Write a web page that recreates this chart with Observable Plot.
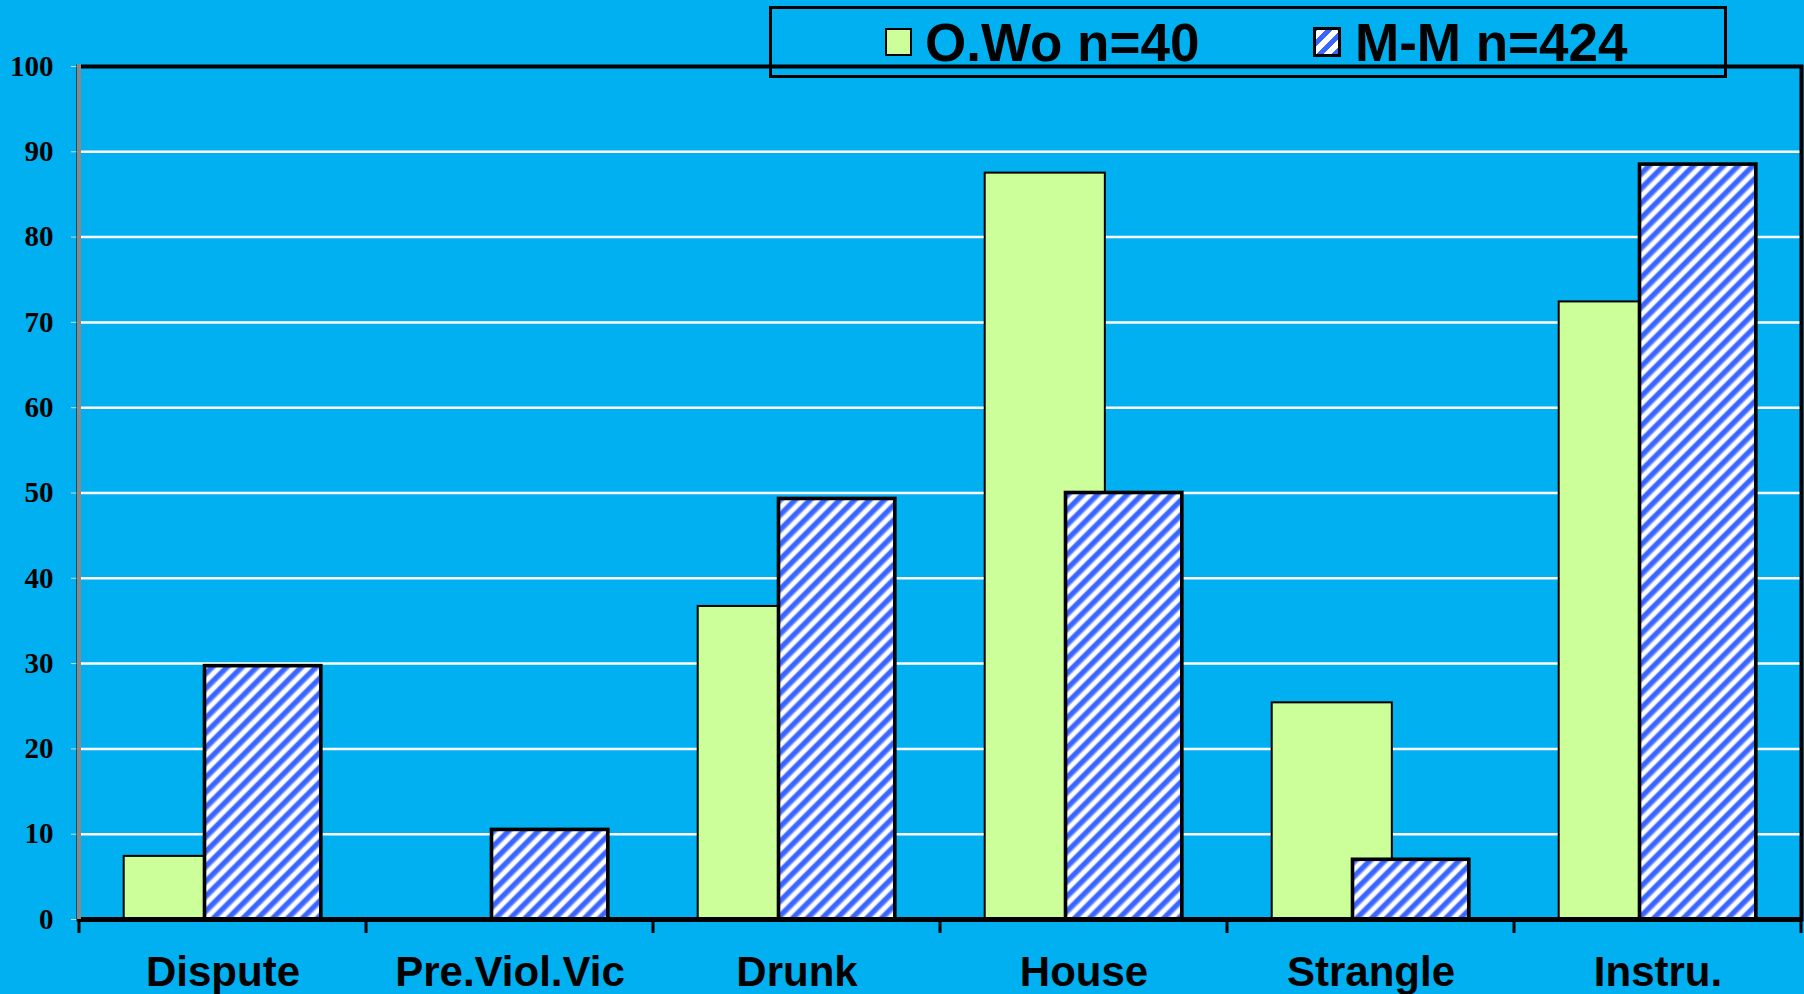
<!DOCTYPE html>
<html>
<head>
<meta charset="utf-8">
<script src="https://cdn.jsdelivr.net/npm/d3@7"></script>
<script src="https://cdn.jsdelivr.net/npm/@observablehq/plot@0.6"></script>
<style>
  html, body { margin: 0; padding: 0; background: #00B0F0; }
  #wrap { position: relative; width: 1804px; height: 994px; overflow: hidden; background: #00B0F0; }
  #legend-box { position: absolute; left: 769px; top: 6px; width: 952px; height: 66px; border: 3px solid #000; z-index: 2; }
  .lg-text { position: absolute; top: 16px; font-family: "Liberation Sans", Arial, sans-serif; font-weight: bold; font-size: 53px; line-height: 1; color: #000; white-space: nowrap; z-index: 3; }
  .lg-sw { position: absolute; box-sizing: border-box; z-index: 3; }
</style>
</head>
<body>
<div id="wrap"></div>
<script>
// ---- data ----
const categories = ["Dispute", "Pre.Viol.Vic", "Drunk", "House", "Strangle", "Instru."];
const owoValues  = [7.4, 0, 36.7, 87.5, 25.4, 72.4];
const mmValues   = [29.7, 10.5, 49.3, 50.0, 7.0, 88.5];
const seriesNames = ["O.Wo n=40", "M-M n=424"];
const yTicks = [0, 10, 20, 30, 40, 50, 60, 70, 80, 90, 100];
const gridTicks = [10, 20, 30, 40, 50, 60, 70, 80, 90];

const table = categories.map((c, i) => ({category: c, owo: owoValues[i], mm: mmValues[i]}));

const W = 1804, H = 994;
const mL = 78, mR = 3, mT = 66, mB = 75;
const bw = (W - mL - mR) / categories.length;

const chart = Plot.plot({
  width: W,
  height: H,
  marginLeft: mL,
  marginRight: mR,
  marginTop: mT,
  marginBottom: mB,
  style: {background: "#00B0F0", fontFamily: "'Liberation Sans', Arial, sans-serif", overflow: "visible"},
  x: {type: "band", domain: categories, padding: 0},
  y: {domain: [0, 100]},
  marks: [
    Plot.gridY(gridTicks, {stroke: "#ffffff", strokeOpacity: 1, strokeWidth: 2.5}),
    Plot.barY(table, {x: "category", y: "owo", fill: "#CCFF99", stroke: "#000", strokeWidth: 2,
      insetLeft: 44.7, insetRight: bw - 165}),
    Plot.barY(table, {x: "category", y: "mm", fill: "url(#hatch)", stroke: "#000", strokeWidth: 3.6,
      insetLeft: 125.5, insetRight: bw - 242}),
    Plot.axisY(yTicks, {tickSize: 7, tickPadding: 18, fontSize: 29, fontWeight: "bold",
      fontFamily: "'Liberation Serif', 'Times New Roman', serif", stroke: "#d8d8d8", fill: "#000", label: null}),
    Plot.axisX({tickSize: 0, tickPadding: 37, fontSize: 42, fontWeight: "bold",
      fontFamily: "'Liberation Sans', Arial, sans-serif", fill: "#000", label: null}),
    Plot.frame({stroke: "#000", strokeWidth: 4}),
    Plot.ruleY([0], {stroke: "#000", strokeWidth: 5})
  ]
});

const svg = d3.select(chart);
svg.insert("defs", ":first-child").html(
  `<pattern id="hatch" patternUnits="userSpaceOnUse" width="10.5" height="10.5" patternTransform="rotate(45)">
     <rect width="10.5" height="10.5" fill="#ffffff"/>
     <rect x="0" width="4.6" height="10.5" fill="#3a66ff"/>
     <rect x="4.6" width="1" height="10.5" fill="#9db4ff"/>
     <rect x="-1" width="1" height="10.5" fill="#9db4ff"/>
     <rect x="9.5" width="1" height="10.5" fill="#9db4ff"/>
   </pattern>`);

const xs = chart.scale("x");
const ys = chart.scale("y");
const edges = categories.map(c => xs.apply(c));
edges.push(xs.apply(categories[categories.length - 1]) + xs.bandwidth);
const y0 = ys.apply(0), y100 = ys.apply(100);

// left axis line (grey)
svg.append("line")
  .attr("x1", edges[0]).attr("x2", edges[0])
  .attr("y1", y100 - 2).attr("y2", y0)
  .attr("stroke", "#8a8a8a").attr("stroke-width", 4);
// category boundary ticks below axis
svg.append("g").selectAll("line").data(edges).join("line")
  .attr("x1", d => d).attr("x2", d => d)
  .attr("y1", y0).attr("y2", y0 + 14)
  .attr("stroke", "#000").attr("stroke-width", 3);

const wrap = document.getElementById("wrap");
wrap.appendChild(chart);

// legend
const box = document.createElement("div");
box.id = "legend-box";
wrap.appendChild(box);

const legendItems = [
  {name: seriesNames[0], swLeft: 885, swTop: 28, swW: 27, swH: 28, border: "2px solid #000", bg: "#CCFF99", textLeft: 925},
  {name: seriesNames[1], swLeft: 1313, swTop: 27, swW: 28, swH: 30, border: "3.5px solid #000",
   bg: "repeating-linear-gradient(-45deg, #3a66ff 0 4.6px, #ffffff 4.6px 10.5px)", textLeft: 1355}
];
legendItems.forEach(it => {
  const sw = document.createElement("div");
  sw.className = "lg-sw";
  sw.style.left = it.swLeft + "px";
  sw.style.top = it.swTop + "px";
  sw.style.width = it.swW + "px";
  sw.style.height = it.swH + "px";
  sw.style.border = it.border;
  sw.style.background = it.bg;
  wrap.appendChild(sw);
  const t = document.createElement("div");
  t.className = "lg-text";
  t.style.left = it.textLeft + "px";
  t.textContent = it.name;
  wrap.appendChild(t);
});
</script>
</body>
</html>
